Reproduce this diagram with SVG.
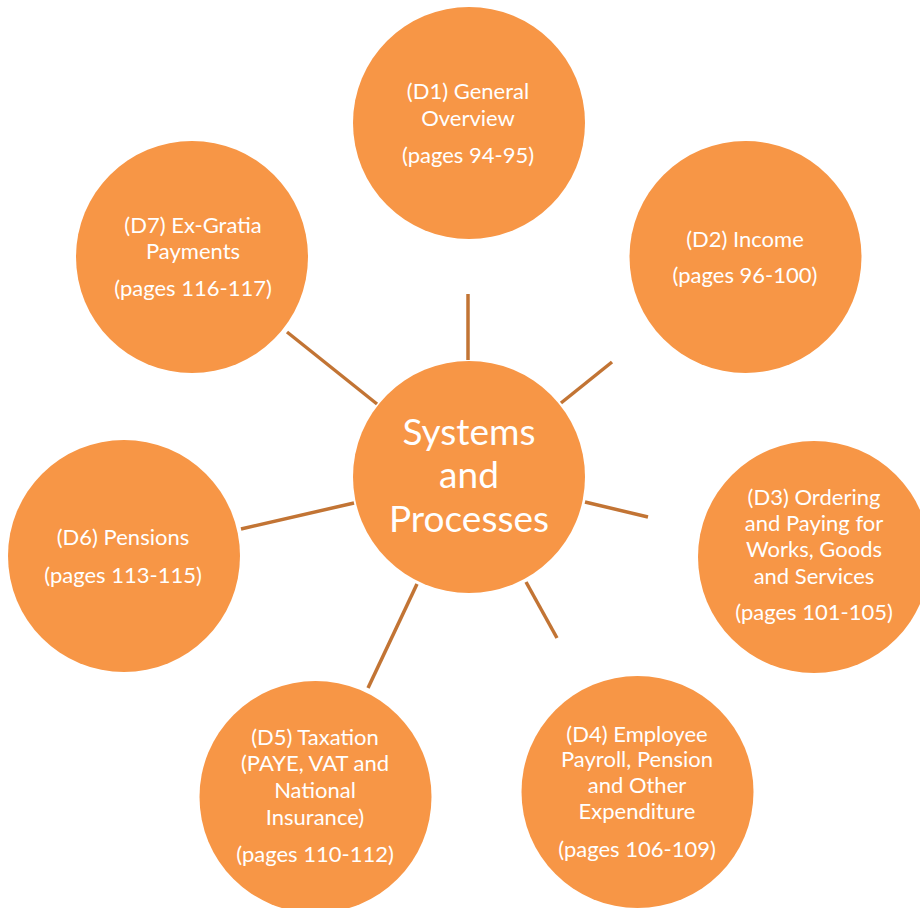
<svg xmlns="http://www.w3.org/2000/svg" width="920" height="908" viewBox="0 0 920 908">
<style>
.n{fill:#F79646}
.t{fill:#FFFFFF;font-family:Lato,"Liberation Sans",sans-serif;font-size:22px;text-anchor:middle}
.c{font-size:37px}
.e line{stroke:#C27434;stroke-width:3.5}
</style>
<rect width="920" height="908" fill="#FFFFFF"/>
<g id="connectors" class="e">
<line x1="468" y1="294" x2="468" y2="360"/>
<line x1="612" y1="362" x2="561" y2="403"/>
<line x1="585" y1="502" x2="648" y2="517"/>
<line x1="526" y1="582" x2="557" y2="638"/>
<line x1="417" y1="584" x2="368" y2="688"/>
<line x1="354" y1="503" x2="241" y2="529"/>
<line x1="287" y1="332" x2="377" y2="404"/>
</g>
<g id="center">
<circle class="n" cx="469" cy="477" r="116"/>
<text class="t c" x="469" y="445">Systems</text>
<text class="t c" x="469" y="488">and</text>
<text class="t c" x="469" y="532">Processes</text>
</g>
<g id="d1">
<circle class="n" cx="469" cy="123" r="116"/>
<text class="t" x="468" y="99">(D1) General</text>
<text class="t" x="468" y="126">Overview</text>
<text class="t" x="468" y="163">(pages 94-95)</text>
</g>
<g id="d2">
<circle class="n" cx="745.5" cy="257" r="116"/>
<text class="t" x="745" y="247">(D2) Income</text>
<text class="t" x="745" y="283">(pages 96-100)</text>
</g>
<g id="d3">
<circle class="n" cx="814" cy="557" r="116"/>
<text class="t" x="814" y="505">(D3) Ordering</text>
<text class="t" x="814" y="531">and Paying for</text>
<text class="t" x="814" y="557">Works, Goods</text>
<text class="t" x="814" y="584">and Services</text>
<text class="t" x="814" y="620">(pages 101-105)</text>
</g>
<g id="d4">
<circle class="n" cx="637.5" cy="792" r="116"/>
<text class="t" x="637" y="742">(D4) Employee</text>
<text class="t" x="637" y="767">Payroll, Pension</text>
<text class="t" x="637" y="793">and Other</text>
<text class="t" x="637" y="819">Expenditure</text>
<text class="t" x="637" y="857">(pages 106-109)</text>
</g>
<g id="d5">
<circle class="n" cx="315.5" cy="797" r="116"/>
<text class="t" x="315" y="745">(D5) Taxation</text>
<text class="t" x="315" y="771">(PAYE, VAT and</text>
<text class="t" x="315" y="798">National</text>
<text class="t" x="315" y="825">Insurance)</text>
<text class="t" x="315" y="862">(pages 110-112)</text>
</g>
<g id="d6">
<circle class="n" cx="124" cy="556" r="116"/>
<text class="t" x="123" y="545">(D6) Pensions</text>
<text class="t" x="123" y="583">(pages 113-115)</text>
</g>
<g id="d7">
<circle class="n" cx="192" cy="257" r="116"/>
<text class="t" x="193" y="233">(D7) Ex-Gratia</text>
<text class="t" x="193" y="259">Payments</text>
<text class="t" x="193" y="296">(pages 116-117)</text>
</g>
</svg>
